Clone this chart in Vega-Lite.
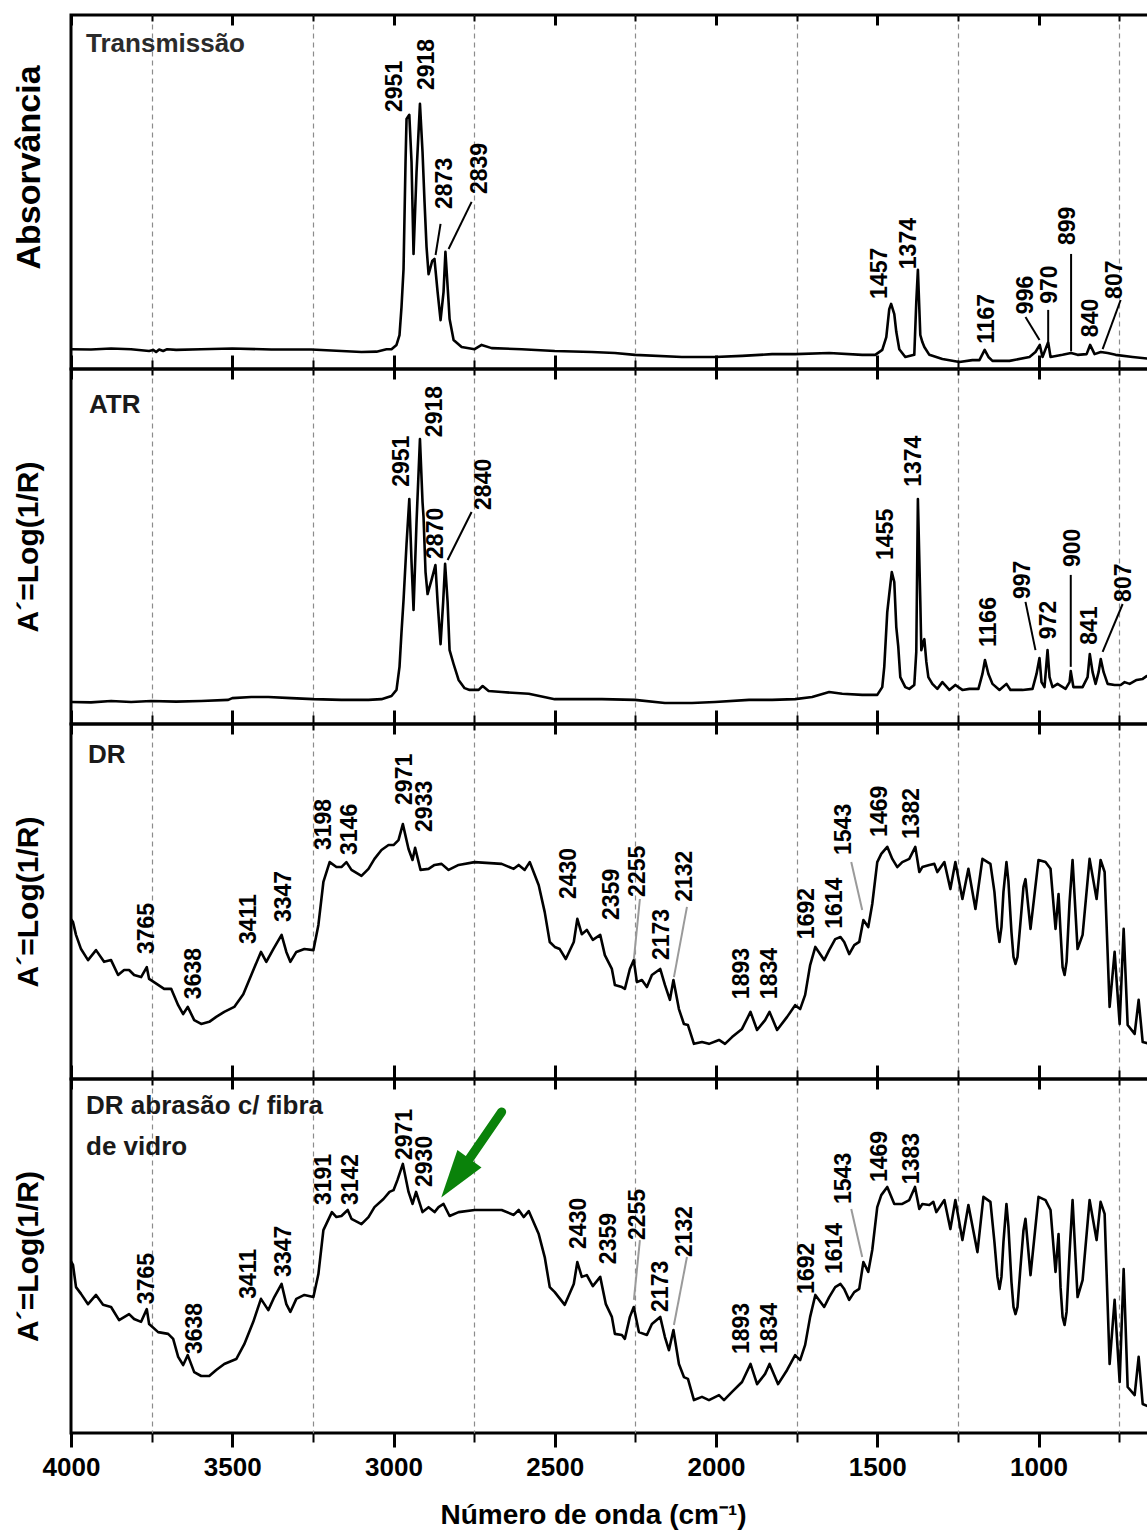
{
  "$schema": "https://vega.github.io/schema/vega-lite/v6.json",
  "background": "white",
  "padding": {"left": 10, "top": 12, "right": 0, "bottom": 0},
  "spacing": 0,
  "bounds": "flush",
  "config": {
    "font": "Liberation Sans",
    "view": {"stroke": "black", "strokeWidth": 3},
    "axis": {"domain": false, "grid": false, "labels": false, "tickColor": "black"}
  },
  "datasets": {
    "transmissao": [
      {"wn":4000,"a":5.6},{"wn":3937.9,"a":5.5},{"wn":3875.8,"a":5.8},{"wn":3813.7,"a":5.6},{"wn":3757.8,"a":5.1},{"wn":3745.3,"a":5.4},{"wn":3736,"a":4.8},{"wn":3726.7,"a":5.5},{"wn":3714.3,"a":5.1},{"wn":3701.9,"a":5.6},{"wn":3673.9,"a":5.4},{"wn":3596.3,"a":5.6},{"wn":3500,"a":5.8},{"wn":3378.9,"a":5.5},{"wn":3254.7,"a":5.5},{"wn":3161.5,"a":5.1},{"wn":3099.4,"a":4.8},{"wn":3052.8,"a":4.9},{"wn":3021.7,"a":5.6},{"wn":3006.2,"a":5.6},{"wn":2990.7,"a":6.8},{"wn":2981.4,"a":9.6},{"wn":2975.2,"a":17.5},{"wn":2968.9,"a":28.2},{"wn":2962.7,"a":58.5},{"wn":2959.6,"a":70.6},{"wn":2951,"a":71.8},{"wn":2944.1,"a":58.5},{"wn":2937.9,"a":32.5},{"wn":2928.6,"a":55.6},{"wn":2918,"a":74.9},{"wn":2910,"a":61.3},{"wn":2903.8,"a":47.2},{"wn":2897.6,"a":34.5},{"wn":2891.3,"a":26.8},{"wn":2885.1,"a":28.8},{"wn":2880,"a":30.5},{"wn":2873,"a":31.1},{"wn":2863.3,"a":21.8},{"wn":2854.1,"a":13.8},{"wn":2844.8,"a":21.8},{"wn":2839,"a":33.1},{"wn":2829.2,"a":18.9},{"wn":2826.1,"a":14.1},{"wn":2813.7,"a":8.2},{"wn":2788.8,"a":6.2},{"wn":2748.4,"a":5.6},{"wn":2726.7,"a":6.8},{"wn":2695.7,"a":5.9},{"wn":2602.5,"a":5.6},{"wn":2500,"a":5.1},{"wn":2385.1,"a":4.8},{"wn":2313.6,"a":4.5},{"wn":2251.5,"a":4},{"wn":2105.6,"a":3.4},{"wn":2003.1,"a":3.4},{"wn":1919.2,"a":3.7},{"wn":1826.1,"a":4.2},{"wn":1754.7,"a":4.2},{"wn":1649.1,"a":4.5},{"wn":1546.6,"a":4},{"wn":1506.2,"a":4},{"wn":1484.5,"a":5.4},{"wn":1472,"a":9},{"wn":1462.8,"a":16.9},{"wn":1457,"a":18.4},{"wn":1447.2,"a":15.5},{"wn":1441,"a":10.5},{"wn":1431.7,"a":5.6},{"wn":1413.1,"a":3.4},{"wn":1385.2,"a":4},{"wn":1379,"a":18.9},{"wn":1374,"a":28},{"wn":1366.5,"a":9.6},{"wn":1360.2,"a":7.6},{"wn":1354,"a":6.2},{"wn":1338.5,"a":4},{"wn":1298.1,"a":2.8},{"wn":1245.3,"a":2},{"wn":1205,"a":2.5},{"wn":1183.2,"a":2.5},{"wn":1167,"a":5.4},{"wn":1155.3,"a":3.4},{"wn":1142.8,"a":2.3},{"wn":1090,"a":2.3},{"wn":1028,"a":3.4},{"wn":1009.4,"a":4.8},{"wn":996,"a":6.8},{"wn":987.6,"a":3.4},{"wn":970,"a":7.6},{"wn":962.7,"a":3.4},{"wn":925.4,"a":4},{"wn":899,"a":4.5},{"wn":878.9,"a":4},{"wn":850.9,"a":4.2},{"wn":840,"a":6.8},{"wn":826.1,"a":4.2},{"wn":807,"a":4.8},{"wn":785.7,"a":4.5},{"wn":760.9,"a":4},{"wn":708.1,"a":3.4},{"wn":646,"a":2.8}
    ],
    "atr": [
      {"wn":4000,"a":6.2},{"wn":3937.9,"a":6.1},{"wn":3875.8,"a":6.5},{"wn":3813.7,"a":6.2},{"wn":3751.6,"a":6.5},{"wn":3673.9,"a":6.3},{"wn":3596.3,"a":6.5},{"wn":3512.4,"a":6.8},{"wn":3500,"a":7.3},{"wn":3441,"a":7.6},{"wn":3388.2,"a":7.6},{"wn":3316.8,"a":7.3},{"wn":3248.4,"a":7},{"wn":3161.5,"a":6.8},{"wn":3077.6,"a":6.8},{"wn":3037.3,"a":7},{"wn":3006.2,"a":7.9},{"wn":2990.7,"a":9.6},{"wn":2981.4,"a":16.1},{"wn":2975.2,"a":25.9},{"wn":2968.9,"a":34.9},{"wn":2959.6,"a":50.7},{"wn":2951,"a":63.4},{"wn":2944.1,"a":45.6},{"wn":2937.9,"a":32.1},{"wn":2928.6,"a":56.9},{"wn":2918,"a":80.3},{"wn":2910,"a":62.5},{"wn":2906.9,"a":58.3},{"wn":2900.7,"a":42.8},{"wn":2894.4,"a":36.6},{"wn":2888.2,"a":38.6},{"wn":2882,"a":40.6},{"wn":2870,"a":44.8},{"wn":2863.3,"a":34.4},{"wn":2854.1,"a":22.5},{"wn":2846,"a":34.4},{"wn":2840,"a":45.1},{"wn":2832.3,"a":34.4},{"wn":2826.1,"a":20.8},{"wn":2813.7,"a":16.9},{"wn":2798.2,"a":12.4},{"wn":2779.6,"a":10.1},{"wn":2764,"a":9.6},{"wn":2736,"a":9.6},{"wn":2723.6,"a":10.7},{"wn":2705,"a":9.3},{"wn":2664.6,"a":9},{"wn":2580.7,"a":8.5},{"wn":2500,"a":7},{"wn":2354,"a":7},{"wn":2251.5,"a":6.8},{"wn":2158.4,"a":5.9},{"wn":2074.6,"a":5.9},{"wn":2003.1,"a":6.2},{"wn":1897.5,"a":6.8},{"wn":1826.1,"a":6.8},{"wn":1754.7,"a":7},{"wn":1702,"a":7.6},{"wn":1649.1,"a":9},{"wn":1608.7,"a":8.5},{"wn":1546.6,"a":8.2},{"wn":1500,"a":8.2},{"wn":1484.5,"a":10.4},{"wn":1478.3,"a":16.1},{"wn":1469,"a":31.5},{"wn":1462.8,"a":36.6},{"wn":1455,"a":42.8},{"wn":1447.2,"a":40},{"wn":1441,"a":27.3},{"wn":1434.8,"a":21.7},{"wn":1428.6,"a":13.2},{"wn":1413.1,"a":10.4},{"wn":1400.7,"a":9.9},{"wn":1385.2,"a":11},{"wn":1379,"a":20.3},{"wn":1374,"a":63.4},{"wn":1366.5,"a":34.4},{"wn":1363.4,"a":20.8},{"wn":1357.1,"a":23.1},{"wn":1354,"a":23.9},{"wn":1347.8,"a":17.5},{"wn":1341.6,"a":13.2},{"wn":1329.2,"a":11.3},{"wn":1313.7,"a":9.9},{"wn":1298.1,"a":11.8},{"wn":1276.4,"a":9.6},{"wn":1257.8,"a":11},{"wn":1236,"a":9.6},{"wn":1214.3,"a":9.9},{"wn":1186.3,"a":9.9},{"wn":1173.9,"a":14.1},{"wn":1166,"a":18},{"wn":1155.3,"a":14.1},{"wn":1142.8,"a":11.3},{"wn":1121.1,"a":9.6},{"wn":1099.4,"a":11.3},{"wn":1086.9,"a":9.6},{"wn":1049.6,"a":9.6},{"wn":1018.6,"a":9.9},{"wn":1006.2,"a":14.1},{"wn":997,"a":18.6},{"wn":990.7,"a":11.8},{"wn":981.4,"a":10.4},{"wn":972,"a":20.8},{"wn":965.8,"a":13.2},{"wn":956.5,"a":10.4},{"wn":941,"a":11.3},{"wn":916.1,"a":9.9},{"wn":903.7,"a":11.8},{"wn":900,"a":14.9},{"wn":891.9,"a":10.4},{"wn":863.3,"a":10.4},{"wn":847.8,"a":13.2},{"wn":841,"a":19.7},{"wn":832.3,"a":14.6},{"wn":823,"a":11.3},{"wn":813.7,"a":14.6},{"wn":807,"a":18.3},{"wn":798.1,"a":14.6},{"wn":785.7,"a":11.3},{"wn":764,"a":11},{"wn":745.3,"a":11},{"wn":732.9,"a":11.8},{"wn":717.4,"a":11.3},{"wn":695.7,"a":12.4},{"wn":677,"a":12.7},{"wn":664.6,"a":13.5},{"wn":646,"a":13.2}
    ],
    "dr": [
      {"wn":4000,"a":45},{"wn":3993.8,"a":44.2},{"wn":3984.5,"a":40.6},{"wn":3968.9,"a":36.6},{"wn":3947.2,"a":33.5},{"wn":3922.4,"a":36.3},{"wn":3897.5,"a":33},{"wn":3875.8,"a":33.5},{"wn":3854,"a":29.3},{"wn":3835.4,"a":30.7},{"wn":3819.9,"a":30.7},{"wn":3804.3,"a":29.3},{"wn":3782.6,"a":28.7},{"wn":3765,"a":31.5},{"wn":3757.8,"a":28.2},{"wn":3729.8,"a":26.5},{"wn":3711.2,"a":25.4},{"wn":3689.4,"a":25.4},{"wn":3667.7,"a":20.8},{"wn":3652.2,"a":18.3},{"wn":3638,"a":20.3},{"wn":3618,"a":16.6},{"wn":3596.3,"a":15.5},{"wn":3571.4,"a":16.1},{"wn":3549.7,"a":17.5},{"wn":3524.8,"a":18.9},{"wn":3493.8,"a":20.3},{"wn":3465.8,"a":23.9},{"wn":3441,"a":29.3},{"wn":3411,"a":35.8},{"wn":3394.4,"a":33},{"wn":3372.7,"a":36.6},{"wn":3347,"a":40.6},{"wn":3332.3,"a":35.8},{"wn":3319.9,"a":33},{"wn":3301.3,"a":35.8},{"wn":3276.4,"a":36.6},{"wn":3248.4,"a":36.3},{"wn":3232.9,"a":43.4},{"wn":3217.4,"a":55.5},{"wn":3198,"a":61.1},{"wn":3177,"a":59.7},{"wn":3161.5,"a":59.7},{"wn":3146,"a":61.1},{"wn":3130.4,"a":58.9},{"wn":3099.4,"a":57.2},{"wn":3077.6,"a":59.2},{"wn":3059,"a":62},{"wn":3037.3,"a":64.5},{"wn":3015.5,"a":65.9},{"wn":3000,"a":65.9},{"wn":2984.5,"a":67.3},{"wn":2971,"a":71.8},{"wn":2953.4,"a":64.8},{"wn":2941,"a":61.7},{"wn":2933,"a":65.1},{"wn":2916.2,"a":58.9},{"wn":2891.3,"a":59.2},{"wn":2872.7,"a":60.3},{"wn":2851,"a":60.6},{"wn":2829.2,"a":58.9},{"wn":2798.2,"a":60.3},{"wn":2748.4,"a":61.1},{"wn":2664.6,"a":60.6},{"wn":2627.3,"a":59.2},{"wn":2611.8,"a":60.3},{"wn":2593.2,"a":58.9},{"wn":2577.6,"a":61.1},{"wn":2549.7,"a":54.6},{"wn":2531.1,"a":47},{"wn":2515.5,"a":38.6},{"wn":2500,"a":37.2},{"wn":2484.5,"a":36.6},{"wn":2465.8,"a":33.8},{"wn":2441,"a":38.6},{"wn":2430,"a":45.1},{"wn":2416.2,"a":40.8},{"wn":2400.6,"a":42},{"wn":2382,"a":39.2},{"wn":2359,"a":40.6},{"wn":2344.7,"a":34.9},{"wn":2322.9,"a":31},{"wn":2313.6,"a":26.5},{"wn":2291.9,"a":25.9},{"wn":2282.6,"a":25.4},{"wn":2267.1,"a":31},{"wn":2255,"a":33.5},{"wn":2245.3,"a":27.3},{"wn":2229.8,"a":27.9},{"wn":2214.3,"a":25.9},{"wn":2198.8,"a":29.3},{"wn":2173,"a":31},{"wn":2158.4,"a":26.5},{"wn":2142.9,"a":22.3},{"wn":2132,"a":27.9},{"wn":2115,"a":19.7},{"wn":2099.5,"a":15.5},{"wn":2087,"a":15.2},{"wn":2068.4,"a":9.9},{"wn":2043.5,"a":10.4},{"wn":2021.8,"a":9.9},{"wn":1990.7,"a":11},{"wn":1972.1,"a":9.9},{"wn":1950.3,"a":11.8},{"wn":1919.3,"a":14.1},{"wn":1893,"a":18.9},{"wn":1872.7,"a":13.8},{"wn":1847.8,"a":16.6},{"wn":1834,"a":18.9},{"wn":1810.6,"a":13.8},{"wn":1779.5,"a":17.5},{"wn":1754.7,"a":20.8},{"wn":1739.1,"a":19.7},{"wn":1723.6,"a":23.7},{"wn":1708.1,"a":32.1},{"wn":1692,"a":37.2},{"wn":1664.6,"a":33.5},{"wn":1649.1,"a":36.3},{"wn":1630.4,"a":39.4},{"wn":1614,"a":40},{"wn":1602.5,"a":38.6},{"wn":1587,"a":35.2},{"wn":1571.4,"a":37.7},{"wn":1555.9,"a":38.6},{"wn":1543,"a":44.8},{"wn":1527.9,"a":42.8},{"wn":1515.5,"a":49.3},{"wn":1500,"a":61.1},{"wn":1487.6,"a":63.4},{"wn":1469,"a":65.4},{"wn":1453.4,"a":62},{"wn":1437.9,"a":59.7},{"wn":1422.4,"a":61.1},{"wn":1400.7,"a":62},{"wn":1382,"a":65.4},{"wn":1369.6,"a":58.3},{"wn":1360.2,"a":59.7},{"wn":1338.5,"a":60.3},{"wn":1323,"a":60.6},{"wn":1313.7,"a":58.3},{"wn":1291.9,"a":61.1},{"wn":1273.3,"a":53.5},{"wn":1257.8,"a":61.1},{"wn":1236,"a":50.7},{"wn":1217.4,"a":59.2},{"wn":1195.6,"a":47.9},{"wn":1173.9,"a":62},{"wn":1149.1,"a":60.6},{"wn":1136.7,"a":52.7},{"wn":1127.4,"a":42.8},{"wn":1121.1,"a":38.6},{"wn":1114.9,"a":42.8},{"wn":1108.7,"a":52.7},{"wn":1099.4,"a":61.1},{"wn":1093.2,"a":55.5},{"wn":1083.9,"a":41.4},{"wn":1077.6,"a":34.4},{"wn":1071.4,"a":32.4},{"wn":1065.2,"a":34.4},{"wn":1055.9,"a":44.2},{"wn":1046.6,"a":54.1},{"wn":1040.4,"a":56.3},{"wn":1024.8,"a":42.3},{"wn":1000,"a":61.7},{"wn":978.3,"a":61.1},{"wn":962.7,"a":59.2},{"wn":947.2,"a":42.3},{"wn":937.9,"a":52.1},{"wn":931.7,"a":41.4},{"wn":925.4,"a":31.5},{"wn":919.2,"a":29.3},{"wn":913,"a":33},{"wn":903.7,"a":49.9},{"wn":894.4,"a":61.7},{"wn":878.9,"a":36.6},{"wn":863.3,"a":40.6},{"wn":841.6,"a":62},{"wn":819.9,"a":50.7},{"wn":807.5,"a":61.7},{"wn":795,"a":58.3},{"wn":779.5,"a":20.3},{"wn":764,"a":35.8},{"wn":748.4,"a":15.5},{"wn":736,"a":42.3},{"wn":723.6,"a":15.2},{"wn":701.9,"a":12.7},{"wn":689.5,"a":22.3},{"wn":677,"a":10.4},{"wn":655.3,"a":9.9},{"wn":646,"a":9.6}
    ],
    "dr_fibra": [
      {"wn":4000,"a":48.5},{"wn":3993.8,"a":47.5},{"wn":3984.5,"a":41.2},{"wn":3968.9,"a":39.3},{"wn":3947.2,"a":36.4},{"wn":3922.4,"a":39},{"wn":3900.6,"a":36.2},{"wn":3875.8,"a":35.6},{"wn":3850.9,"a":31.9},{"wn":3819.9,"a":33.6},{"wn":3804.3,"a":32.2},{"wn":3782.6,"a":31.4},{"wn":3765,"a":35},{"wn":3757.8,"a":30.8},{"wn":3729.8,"a":28.5},{"wn":3698.8,"a":28},{"wn":3683.2,"a":26.6},{"wn":3667.7,"a":21.5},{"wn":3652.2,"a":19.2},{"wn":3638,"a":22},{"wn":3618,"a":17.2},{"wn":3596.3,"a":16.1},{"wn":3571.4,"a":16.1},{"wn":3549.7,"a":17.8},{"wn":3524.8,"a":19.5},{"wn":3487.6,"a":20.9},{"wn":3462.7,"a":25.1},{"wn":3434.8,"a":31.4},{"wn":3411,"a":37.9},{"wn":3388.2,"a":34.7},{"wn":3369.6,"a":38.4},{"wn":3347,"a":42.1},{"wn":3332.3,"a":36.4},{"wn":3319.9,"a":34.2},{"wn":3301.3,"a":37.9},{"wn":3276.4,"a":39},{"wn":3248.4,"a":38.4},{"wn":3232.9,"a":44.9},{"wn":3217.4,"a":57.3},{"wn":3191,"a":62.4},{"wn":3177,"a":61},{"wn":3161.5,"a":61.3},{"wn":3142,"a":63},{"wn":3130.4,"a":60.5},{"wn":3099.4,"a":59},{"wn":3077.6,"a":61},{"wn":3059,"a":63.8},{"wn":3031.1,"a":66.1},{"wn":3012.4,"a":68.1},{"wn":3000,"a":68.6},{"wn":2987.6,"a":71.5},{"wn":2971,"a":76},{"wn":2953.4,"a":68.1},{"wn":2941,"a":64.7},{"wn":2930,"a":68.1},{"wn":2910,"a":62.4},{"wn":2891.3,"a":63.8},{"wn":2872.7,"a":62.4},{"wn":2860.3,"a":63.8},{"wn":2844.8,"a":64.7},{"wn":2826.1,"a":61.3},{"wn":2798.2,"a":62.4},{"wn":2748.4,"a":63},{"wn":2664.6,"a":63},{"wn":2627.3,"a":61.6},{"wn":2611.8,"a":63},{"wn":2596.3,"a":61},{"wn":2580.7,"a":62.7},{"wn":2549.7,"a":56.2},{"wn":2531.1,"a":49.7},{"wn":2515.5,"a":41.2},{"wn":2500,"a":39.8},{"wn":2469,"a":36.2},{"wn":2441,"a":42.1},{"wn":2430,"a":48.3},{"wn":2416.2,"a":44.1},{"wn":2400.6,"a":44.6},{"wn":2382,"a":41.5},{"wn":2359,"a":44.1},{"wn":2341.6,"a":36.4},{"wn":2322.9,"a":32.8},{"wn":2313.6,"a":28},{"wn":2291.9,"a":27.7},{"wn":2282.6,"a":26.6},{"wn":2267.1,"a":32.8},{"wn":2255,"a":35.6},{"wn":2239.1,"a":28.5},{"wn":2214.3,"a":27.7},{"wn":2198.8,"a":30.8},{"wn":2173,"a":32.8},{"wn":2158.4,"a":27.1},{"wn":2146,"a":23.4},{"wn":2132,"a":29.1},{"wn":2115,"a":19.5},{"wn":2099.5,"a":15.8},{"wn":2087,"a":15.3},{"wn":2068.4,"a":9.3},{"wn":2043.5,"a":10.2},{"wn":2021.8,"a":9.3},{"wn":1990.7,"a":10.7},{"wn":1975.2,"a":9.3},{"wn":1950.3,"a":11.6},{"wn":1919.3,"a":14.4},{"wn":1893,"a":19.5},{"wn":1872.7,"a":13.8},{"wn":1847.8,"a":16.7},{"wn":1834,"a":19.5},{"wn":1807.5,"a":13.8},{"wn":1779.5,"a":17.8},{"wn":1754.7,"a":22},{"wn":1739.1,"a":20.6},{"wn":1723.6,"a":24.9},{"wn":1708.1,"a":32.8},{"wn":1692,"a":39},{"wn":1664.6,"a":35.6},{"wn":1649.1,"a":38.4},{"wn":1630.4,"a":41.2},{"wn":1614,"a":42.1},{"wn":1602.5,"a":40.7},{"wn":1587,"a":37.6},{"wn":1571.4,"a":39.8},{"wn":1555.9,"a":40.7},{"wn":1543,"a":48.3},{"wn":1527.9,"a":45.5},{"wn":1515.5,"a":51.7},{"wn":1500,"a":63.8},{"wn":1487.6,"a":67.2},{"wn":1469,"a":69.5},{"wn":1447.2,"a":64.7},{"wn":1422.4,"a":64.7},{"wn":1400.7,"a":65.8},{"wn":1383,"a":69.5},{"wn":1369.6,"a":63.3},{"wn":1360.2,"a":64.7},{"wn":1338.5,"a":64.4},{"wn":1326.1,"a":65.3},{"wn":1316.8,"a":62.4},{"wn":1291.9,"a":65.8},{"wn":1273.3,"a":57.6},{"wn":1257.8,"a":65.8},{"wn":1236,"a":54.5},{"wn":1217.4,"a":64.4},{"wn":1189.4,"a":51.1},{"wn":1170.8,"a":66.7},{"wn":1149.1,"a":65.3},{"wn":1136.7,"a":54},{"wn":1127.4,"a":44.1},{"wn":1121.1,"a":40.7},{"wn":1114.9,"a":44.1},{"wn":1108.7,"a":54},{"wn":1099.4,"a":64.7},{"wn":1093.2,"a":58.2},{"wn":1083.9,"a":42.7},{"wn":1077.6,"a":35.6},{"wn":1071.4,"a":33.6},{"wn":1065.2,"a":35.6},{"wn":1055.9,"a":46.9},{"wn":1046.6,"a":57.3},{"wn":1040.4,"a":60.5},{"wn":1024.8,"a":44.6},{"wn":1000,"a":66.7},{"wn":978.3,"a":65.8},{"wn":962.7,"a":63},{"wn":947.2,"a":45.5},{"wn":937.9,"a":56.2},{"wn":931.7,"a":41.2},{"wn":925.4,"a":32.8},{"wn":919.2,"a":30.5},{"wn":913,"a":34.2},{"wn":903.7,"a":51.1},{"wn":894.4,"a":65.8},{"wn":878.9,"a":38.4},{"wn":863.3,"a":43.2},{"wn":841.6,"a":65.8},{"wn":819.9,"a":54.5},{"wn":807.5,"a":65.3},{"wn":795,"a":61.9},{"wn":779.5,"a":19.5},{"wn":764,"a":37.6},{"wn":748.4,"a":14.4},{"wn":736,"a":46.3},{"wn":723.6,"a":13},{"wn":701.9,"a":10.7},{"wn":689.5,"a":21.5},{"wn":677,"a":8.2},{"wn":655.3,"a":7.3},{"wn":646,"a":7.1}
    ],
    "picos_t": [
      {"pico":"2951","wn":2996.9,"a":72.6},{"pico":"2918","wn":2897.5,"a":78.8},{"pico":"2873","wn":2841.6,"a":45.2},{"pico":"2839","wn":2732.9,"a":49.4},{"pico":"1457","wn":1490.7,"a":19.8},{"pico":"1374","wn":1400.7,"a":28.2},{"pico":"1167","wn":1158.4,"a":7.1},{"pico":"996","wn":1037.3,"a":15.5},{"pico":"970","wn":965.8,"a":18.4},{"pico":"899","wn":909.9,"a":35.0},{"pico":"840","wn":838.5,"a":9.0},{"pico":"807","wn":764.0,"a":19.8}
    ],
    "guias_t": [
      {"wn_a":2854.1,"a":41.0,"wn_b":2869.6,"a_b":32.2},{"wn_a":2757.8,"a":47.2,"wn_b":2829.2,"a_b":33.9},{"wn_a":1040.4,"a":14.7,"wn_b":996.9,"a_b":8.2},{"wn_a":970,"a":16.7,"wn_b":970,"a_b":7.8},{"wn_a":899,"a":32.5,"wn_b":899,"a_b":5.0},{"wn_a":745.3,"a":19.5,"wn_b":801.2,"a_b":5.6}
    ],
    "picos_atr": [
      {"pico":"2951","wn":2975.2,"a":66.8},{"pico":"2918","wn":2872.7,"a":80.8},{"pico":"2870","wn":2869.6,"a":46.5},{"pico":"2840","wn":2720.5,"a":60.3},{"pico":"1455","wn":1472.0,"a":46.2},{"pico":"1374","wn":1385.2,"a":66.8},{"pico":"1166","wn":1152.2,"a":21.7},{"pico":"997","wn":1046.6,"a":35.2},{"pico":"972","wn":969.0,"a":23.9},{"pico":"900","wn":894.4,"a":44.2},{"pico":"841","wn":841.6,"a":22.3},{"pico":"807","wn":736.0,"a":34.4}
    ],
    "guias_atr": [
      {"wn_a":2757.8,"a":59.7,"wn_b":2832.3,"a_b":46.2},{"wn_a":1040.4,"a":34.4,"wn_b":1009.4,"a_b":20.8},{"wn_a":900,"a":42.0,"wn_b":900,"a_b":16.1},{"wn_a":739.1,"a":33.8,"wn_b":801.2,"a_b":20.3}
    ],
    "picos_dr": [
      {"pico":"3765","wn":3764.0,"a":35.2},{"pico":"3638","wn":3618.0,"a":22.5},{"pico":"3411","wn":3447.2,"a":38.0},{"pico":"3347","wn":3338.5,"a":44.2},{"pico":"3198","wn":3214.3,"a":64.5},{"pico":"3146","wn":3133.5,"a":63.1},{"pico":"2971","wn":2965.8,"a":77.2},{"pico":"2933","wn":2903.7,"a":69.6},{"pico":"2430","wn":2456.5,"a":50.7},{"pico":"2359","wn":2322.9,"a":44.8},{"pico":"2255","wn":2242.2,"a":51.3},{"pico":"2173","wn":2167.7,"a":33.5},{"pico":"2132","wn":2096.3,"a":49.9},{"pico":"1893","wn":1919.3,"a":22.5},{"pico":"1834","wn":1832.3,"a":22.5},{"pico":"1692","wn":1717.4,"a":39.4},{"pico":"1614","wn":1630.4,"a":42.3},{"pico":"1543","wn":1602.5,"a":63.1},{"pico":"1469","wn":1490.7,"a":68.2},{"pico":"1382","wn":1391.3,"a":67.6}
    ],
    "guias_dr": [
      {"wn_a":2236.0,"a":50.7,"wn_b":2254.6,"a_b":33.8},{"wn_a":2090.1,"a":48.5,"wn_b":2130.5,"a_b":28.7},{"wn_a":1580.7,"a":61.1,"wn_b":1546.6,"a_b":47.6}
    ],
    "picos_fibra": [
      {"pico":"3765","wn":3764.0,"a":36.4},{"pico":"3638","wn":3614.9,"a":22.3},{"pico":"3411","wn":3447.2,"a":37.9},{"pico":"3347","wn":3338.5,"a":44.1},{"pico":"3191","wn":3214.3,"a":64.4},{"pico":"3142","wn":3130.4,"a":64.4},{"pico":"2971","wn":2965.8,"a":77.1},{"pico":"2930","wn":2903.7,"a":69.5},{"pico":"2430","wn":2425.5,"a":52.0},{"pico":"2359","wn":2332.3,"a":47.7},{"pico":"2255","wn":2242.2,"a":54.5},{"pico":"2173","wn":2170.8,"a":34.2},{"pico":"2132","wn":2096.3,"a":49.7},{"pico":"1893","wn":1919.3,"a":22.3},{"pico":"1834","wn":1832.3,"a":22.3},{"pico":"1692","wn":1717.4,"a":39.3},{"pico":"1614","wn":1630.4,"a":44.9},{"pico":"1543","wn":1602.5,"a":64.7},{"pico":"1469","wn":1490.7,"a":70.9},{"pico":"1383","wn":1391.3,"a":70.3}
    ],
    "guias_fibra": [
      {"wn_a":2236.0,"a":54.5,"wn_b":2254.6,"a_b":37.6},{"wn_a":2090.1,"a":49.7,"wn_b":2130.5,"a_b":30.5},{"wn_a":1580.7,"a":63.3,"wn_b":1546.6,"a_b":49.7}
    ]
  },
  "vconcat": [
    {
      "width": 1082,
      "height": 354,
      "resolve": {"axis": {"x": "independent"}},
      "encoding": {
        "y": {"field": "a", "type": "quantitative", "scale": {"domain": [0, 100], "nice": false, "zero": false},
              "axis": {"title": "Absorvância", "ticks": false, "labels": false, "domain": false, "titleFont": "Liberation Sans", "titleFontSize": 34, "titleFontWeight": "bold", "titleColor": "black", "titlePadding": 25, "titleY": 152}}
      },
      "layer": [
        {
          "data": {"name": "transmissao"},
          "mark": {"type": "line", "stroke": "black", "strokeWidth": 2.6, "strokeJoin": "round"},
          "encoding": {
            "x": {"field": "wn", "type": "quantitative", "scale": {"domain": [645, 4000], "reverse": true, "nice": false, "zero": false},
                  "axis": {"orient": "bottom", "values": [4000, 3500, 3000, 2500, 2000, 1500, 1000], "tickSize": -14, "tickWidth": 3, "labels": false, "title": null}}
          }
        },
        {
          "data": {"name": "picos_t"},
          "mark": {"type": "text", "angle": 270, "align": "left", "baseline": "middle", "font": "Liberation Sans", "fontSize": 23, "fontWeight": "bold", "color": "black"},
          "encoding": {
            "x": {"field": "wn", "type": "quantitative", "scale": {"domain": [645, 4000], "reverse": true, "nice": false, "zero": false},
                  "axis": {"orient": "bottom", "values": [3750, 3250, 2750, 2250, 1750, 1250, 750], "tickSize": -9, "tickWidth": 2, "labels": false, "title": null, "grid": true, "gridColor": "#8c8c8c", "gridDash": [5, 4], "gridWidth": 1.2}},
            "text": {"field": "pico", "type": "nominal"}
          }
        },
        {
          "data": {"name": "guias_t"},
          "mark": {"type": "rule", "color": "black", "strokeWidth": 2},
          "encoding": {
            "x": {"field": "wn_a", "type": "quantitative", "scale": {"domain": [645, 4000], "reverse": true, "nice": false, "zero": false},
                  "axis": {"orient": "top", "values": [4000, 3500, 3000, 2500, 2000, 1500, 1000], "tickSize": -10, "tickWidth": 3, "labels": false, "title": null}},
            "x2": {"field": "wn_b"},
            "y2": {"field": "a_b"}
          }
        },
        {
          "data": {"values": [{"texto": "Transmissão", "wn": 3953.4, "a": 91.8}]},
          "mark": {"type": "text", "align": "left", "baseline": "middle", "font": "Liberation Sans", "fontSize": 26, "fontWeight": "bold", "color": "#2b2b2b"},
          "encoding": {
            "x": {"field": "wn", "type": "quantitative", "scale": {"domain": [645, 4000], "reverse": true, "nice": false, "zero": false},
                  "axis": {"orient": "top", "values": [3750, 3250, 2750, 2250, 1750, 1250, 750], "tickSize": -6, "tickWidth": 2, "labels": false, "title": null}},
            "text": {"field": "texto", "type": "nominal"}
          }
        }
      ]
    },
    {
      "width": 1082,
      "height": 355,
      "resolve": {"axis": {"x": "independent"}},
      "encoding": {
        "y": {"field": "a", "type": "quantitative", "scale": {"domain": [0, 100], "nice": false, "zero": false},
              "axis": {"title": "A´=Log(1/R)", "ticks": false, "labels": false, "domain": false, "titleFont": "Liberation Sans", "titleFontSize": 30, "titleFontWeight": "bold", "titleColor": "black", "titlePadding": 28}}
      },
      "layer": [
        {
          "data": {"name": "atr"},
          "mark": {"type": "line", "stroke": "black", "strokeWidth": 2.6, "strokeJoin": "round"},
          "encoding": {
            "x": {"field": "wn", "type": "quantitative", "scale": {"domain": [645, 4000], "reverse": true, "nice": false, "zero": false},
                  "axis": {"orient": "bottom", "values": [4000, 3500, 3000, 2500, 2000, 1500, 1000], "tickSize": -14, "tickWidth": 3, "labels": false, "title": null}}
          }
        },
        {
          "data": {"name": "picos_atr"},
          "mark": {"type": "text", "angle": 270, "align": "left", "baseline": "middle", "font": "Liberation Sans", "fontSize": 23, "fontWeight": "bold", "color": "black"},
          "encoding": {
            "x": {"field": "wn", "type": "quantitative", "scale": {"domain": [645, 4000], "reverse": true, "nice": false, "zero": false},
                  "axis": {"orient": "bottom", "values": [3750, 3250, 2750, 2250, 1750, 1250, 750], "tickSize": -9, "tickWidth": 2, "labels": false, "title": null, "grid": true, "gridColor": "#8c8c8c", "gridDash": [5, 4], "gridWidth": 1.2}},
            "text": {"field": "pico", "type": "nominal"}
          }
        },
        {
          "data": {"name": "guias_atr"},
          "mark": {"type": "rule", "color": "black", "strokeWidth": 2},
          "encoding": {
            "x": {"field": "wn_a", "type": "quantitative", "scale": {"domain": [645, 4000], "reverse": true, "nice": false, "zero": false},
                  "axis": {"orient": "top", "values": [4000, 3500, 3000, 2500, 2000, 1500, 1000], "tickSize": -10, "tickWidth": 3, "labels": false, "title": null}},
            "x2": {"field": "wn_b"},
            "y2": {"field": "a_b"}
          }
        },
        {
          "data": {"values": [{"texto": "ATR", "wn": 3944.1, "a": 89.9}]},
          "mark": {"type": "text", "align": "left", "baseline": "middle", "font": "Liberation Sans", "fontSize": 26, "fontWeight": "bold", "color": "#1a1a1a"},
          "encoding": {
            "x": {"field": "wn", "type": "quantitative", "scale": {"domain": [645, 4000], "reverse": true, "nice": false, "zero": false},
                  "axis": {"orient": "top", "values": [3750, 3250, 2750, 2250, 1750, 1250, 750], "tickSize": -6, "tickWidth": 2, "labels": false, "title": null}},
            "text": {"field": "texto", "type": "nominal"}
          }
        }
      ]
    },
    {
      "width": 1082,
      "height": 355,
      "resolve": {"axis": {"x": "independent"}},
      "encoding": {
        "y": {"field": "a", "type": "quantitative", "scale": {"domain": [0, 100], "nice": false, "zero": false},
              "axis": {"title": "A´=Log(1/R)", "ticks": false, "labels": false, "domain": false, "titleFont": "Liberation Sans", "titleFontSize": 30, "titleFontWeight": "bold", "titleColor": "black", "titlePadding": 28}}
      },
      "layer": [
        {
          "data": {"name": "dr"},
          "mark": {"type": "line", "stroke": "black", "strokeWidth": 2.6, "strokeJoin": "round"},
          "encoding": {
            "x": {"field": "wn", "type": "quantitative", "scale": {"domain": [645, 4000], "reverse": true, "nice": false, "zero": false},
                  "axis": {"orient": "bottom", "values": [4000, 3500, 3000, 2500, 2000, 1500, 1000], "tickSize": -14, "tickWidth": 3, "labels": false, "title": null}}
          }
        },
        {
          "data": {"name": "picos_dr"},
          "mark": {"type": "text", "angle": 270, "align": "left", "baseline": "middle", "font": "Liberation Sans", "fontSize": 23, "fontWeight": "bold", "color": "black"},
          "encoding": {
            "x": {"field": "wn", "type": "quantitative", "scale": {"domain": [645, 4000], "reverse": true, "nice": false, "zero": false},
                  "axis": {"orient": "bottom", "values": [3750, 3250, 2750, 2250, 1750, 1250, 750], "tickSize": -9, "tickWidth": 2, "labels": false, "title": null, "grid": true, "gridColor": "#8c8c8c", "gridDash": [5, 4], "gridWidth": 1.2}},
            "text": {"field": "pico", "type": "nominal"}
          }
        },
        {
          "data": {"name": "guias_dr"},
          "mark": {"type": "rule", "color": "#9a9a9a", "strokeWidth": 2},
          "encoding": {
            "x": {"field": "wn_a", "type": "quantitative", "scale": {"domain": [645, 4000], "reverse": true, "nice": false, "zero": false},
                  "axis": {"orient": "top", "values": [4000, 3500, 3000, 2500, 2000, 1500, 1000], "tickSize": -10, "tickWidth": 3, "labels": false, "title": null}},
            "x2": {"field": "wn_b"},
            "y2": {"field": "a_b"}
          }
        },
        {
          "data": {"values": [{"texto": "DR", "wn": 3947.2, "a": 91.3}]},
          "mark": {"type": "text", "align": "left", "baseline": "middle", "font": "Liberation Sans", "fontSize": 26, "fontWeight": "bold", "color": "#1a1a1a"},
          "encoding": {
            "x": {"field": "wn", "type": "quantitative", "scale": {"domain": [645, 4000], "reverse": true, "nice": false, "zero": false},
                  "axis": {"orient": "top", "values": [3750, 3250, 2750, 2250, 1750, 1250, 750], "tickSize": -6, "tickWidth": 2, "labels": false, "title": null}},
            "text": {"field": "texto", "type": "nominal"}
          }
        }
      ]
    },
    {
      "width": 1082,
      "height": 354,
      "resolve": {"axis": {"x": "independent"}},
      "encoding": {
        "y": {"field": "a", "type": "quantitative", "scale": {"domain": [0, 100], "nice": false, "zero": false},
              "axis": {"title": "A´=Log(1/R)", "ticks": false, "labels": false, "domain": false, "titleFont": "Liberation Sans", "titleFontSize": 30, "titleFontWeight": "bold", "titleColor": "black", "titlePadding": 28}}
      },
      "layer": [
        {
          "data": {"name": "dr_fibra"},
          "mark": {"type": "line", "stroke": "black", "strokeWidth": 2.6, "strokeJoin": "round"},
          "encoding": {
            "x": {"field": "wn", "type": "quantitative", "scale": {"domain": [645, 4000], "reverse": true, "nice": false, "zero": false},
                  "axis": {"orient": "bottom", "values": [4000, 3500, 3000, 2500, 2000, 1500, 1000], "tickSize": 14, "tickWidth": 3,
                           "labels": true, "labelFont": "Liberation Sans", "labelFontSize": 26, "labelFontWeight": "bold", "labelColor": "black", "labelPadding": 7, "labelFlush": false, "labelOverlap": false, "format": "d",
                           "title": "Número de onda (cm⁻¹)", "titleFont": "Liberation Sans", "titleFontSize": 28, "titleFontWeight": "bold", "titleColor": "black", "titlePadding": 21, "titleX": 522}}
          }
        },
        {
          "data": {"name": "picos_fibra"},
          "mark": {"type": "text", "angle": 270, "align": "left", "baseline": "middle", "font": "Liberation Sans", "fontSize": 23, "fontWeight": "bold", "color": "black"},
          "encoding": {
            "x": {"field": "wn", "type": "quantitative", "scale": {"domain": [645, 4000], "reverse": true, "nice": false, "zero": false},
                  "axis": {"orient": "bottom", "values": [3750, 3250, 2750, 2250, 1750, 1250, 750], "tickSize": 9, "tickWidth": 2, "labels": false, "title": null, "grid": true, "gridColor": "#8c8c8c", "gridDash": [5, 4], "gridWidth": 1.2}},
            "text": {"field": "pico", "type": "nominal"}
          }
        },
        {
          "data": {"name": "guias_fibra"},
          "mark": {"type": "rule", "color": "#9a9a9a", "strokeWidth": 2},
          "encoding": {
            "x": {"field": "wn_a", "type": "quantitative", "scale": {"domain": [645, 4000], "reverse": true, "nice": false, "zero": false},
                  "axis": {"orient": "top", "values": [4000, 3500, 3000, 2500, 2000, 1500, 1000], "tickSize": -10, "tickWidth": 3, "labels": false, "title": null}},
            "x2": {"field": "wn_b"},
            "y2": {"field": "a_b"}
          }
        },
        {
          "data": {"values": [{"texto": "DR abrasão c/ fibra", "wn": 3953.4, "a": 92.4}, {"texto": "de vidro", "wn": 3953.4, "a": 80.8}]},
          "mark": {"type": "text", "align": "left", "baseline": "middle", "font": "Liberation Sans", "fontSize": 26, "fontWeight": "bold", "color": "#1a1a1a"},
          "encoding": {
            "x": {"field": "wn", "type": "quantitative", "scale": {"domain": [645, 4000], "reverse": true, "nice": false, "zero": false},
                  "axis": {"orient": "top", "values": [3750, 3250, 2750, 2250, 1750, 1250, 750], "tickSize": -6, "tickWidth": 2, "labels": false, "title": null}},
            "text": {"field": "texto", "type": "nominal"}
          }
        },
        {
          "data": {"values": [{"wn_a": 2664.6, "a": 90.7, "wn_b": 2773.3, "a_b": 76.3}]},
          "mark": {"type": "rule", "color": "#0a820a", "strokeWidth": 9, "strokeCap": "round"},
          "encoding": {
            "x": {"field": "wn_a", "type": "quantitative", "scale": {"domain": [645, 4000], "reverse": true, "nice": false, "zero": false}, "axis": null},
            "x2": {"field": "wn_b"},
            "y2": {"field": "a_b"}
          }
        },
        {
          "data": {"values": [{"wn": 2808.2, "a": 72.0}]},
          "mark": {"type": "point", "shape": "M0,-1L0.62,1L-0.62,1Z", "size": 2304, "angle": 216, "filled": true, "color": "#0a820a", "opacity": 1},
          "encoding": {
            "x": {"field": "wn", "type": "quantitative", "scale": {"domain": [645, 4000], "reverse": true, "nice": false, "zero": false}, "axis": null}
          }
        }
      ]
    }
  ]
}
